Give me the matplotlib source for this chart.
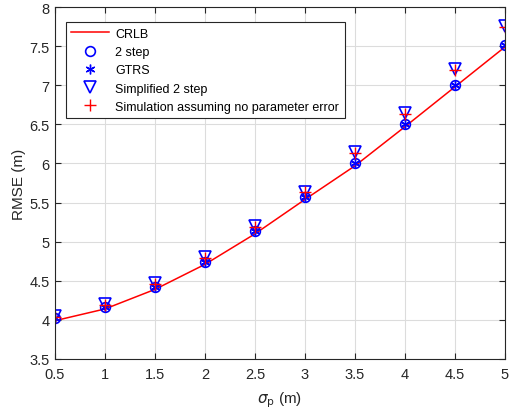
import matplotlib
matplotlib.use("Agg")
import matplotlib.pyplot as plt

plt.rcParams['font.family'] = ['Liberation Sans', 'DejaVu Sans']

sigma_p = [0.5, 1.0, 1.5, 2.0, 2.5, 3.0, 3.5, 4.0, 4.5, 5.0]
crlb = [3.99, 4.14, 4.39, 4.71, 5.10, 5.54, 5.97, 6.47, 6.98, 7.49]
two_step = [4.02, 4.16, 4.42, 4.74, 5.14, 5.57, 6.01, 6.50, 7.00, 7.51]
gtrs = [4.02, 4.16, 4.42, 4.74, 5.14, 5.57, 6.01, 6.50, 7.00, 7.51]
simplified = [4.05, 4.20, 4.47, 4.80, 5.20, 5.64, 6.14, 6.64, 7.21, 7.76]
no_param_err = [4.04, 4.19, 4.46, 4.79, 5.19, 5.63, 6.13, 6.63, 7.20, 7.75]

fig = plt.figure(figsize=(5.1, 4.14), dpi=100)
ax = fig.add_axes([55 / 510, 54 / 414, 450 / 510, 352 / 414])

ax.plot(sigma_p, crlb, color='red', lw=1.1, label='CRLB')
ax.plot(sigma_p, two_step, ls='none', marker='o', ms=7, mfc='none',
        mec='blue', mew=1.2, label='2 step')
ax.plot(sigma_p, gtrs, ls='none', marker=(6, 2, 0), ms=7, color='blue',
        mew=1.0, label='GTRS')
ax.plot(sigma_p, simplified, ls='none', marker='v', ms=8, mfc='none',
        mec='blue', mew=1.2, label='Simplified 2 step')
ax.plot(sigma_p, no_param_err, ls='none', marker='+', ms=8, color='red',
        mew=1.0, label='Simulation assuming no parameter error')

ax.set_xlim(0.5, 5)
ax.set_ylim(3.5, 8)
ax.set_xticks([0.5, 1, 1.5, 2, 2.5, 3, 3.5, 4, 4.5, 5])
ax.set_xticklabels(['0.5', '1', '1.5', '2', '2.5', '3', '3.5', '4', '4.5', '5'])
ax.set_yticks([3.5, 4, 4.5, 5, 5.5, 6, 6.5, 7, 7.5, 8])
ax.set_yticklabels(['3.5', '4', '4.5', '5', '5.5', '6', '6.5', '7', '7.5', '8'])
ax.grid(True, color='#dcdcdc', lw=0.8)
ax.set_axisbelow(True)
ax.tick_params(direction='in', top=True, right=True, labelsize=10.5,
               colors='#262626', length=4)
ax.tick_params(axis='x', pad=6)
ax.tick_params(axis='y', pad=4)
for s in ax.spines.values():
    s.set_color('#262626')
    s.set_linewidth(0.8)

ax.set_xlabel(r'$\sigma_\mathrm{p}$ (m)', fontsize=11, color='#262626', labelpad=6)
ax.set_ylabel('RMSE (m)', fontsize=11, color='#262626', labelpad=2)

leg = ax.legend(loc='upper left', bbox_to_anchor=(0.024, 0.957), borderaxespad=0,
                fontsize=9, fancybox=False, edgecolor='#262626', framealpha=1,
                handlelength=3.0, labelspacing=0.5, borderpad=0.45, handletextpad=0.5)
leg.get_frame().set_linewidth(0.8)

fig.savefig('out.png', dpi=100)
